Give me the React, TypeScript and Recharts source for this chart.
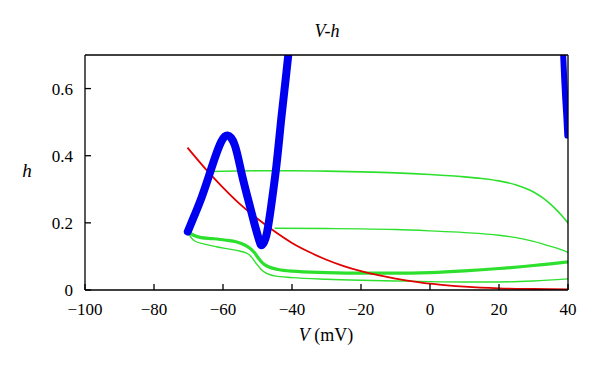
import {LineChart, Line, XAxis, YAxis, Label} from "recharts";

// V (mV), h pairs
const blueLeft: Array<[number, number]> = [
  [-70.2, 0.174], [-68.2, 0.224], [-66.3, 0.273], [-64.3, 0.333], [-62.4, 0.392], [-60.5, 0.442],
  [-58.7, 0.46], [-56.6, 0.432], [-54.7, 0.352], [-52.8, 0.273], [-50.8, 0.194], [-49.4, 0.144],
  [-48.7, 0.134], [-47.4, 0.164], [-46, 0.253], [-44.5, 0.372], [-43.1, 0.511], [-41.8, 0.631], [-41.1, 0.698],
];
const blueRight: Array<[number, number]> = [
  [38.6, 0.7], [38.9, 0.63], [39.2, 0.57], [39.5, 0.52], [39.8, 0.46],
];
const redCurve: Array<[number, number]> = [
  [-70.3, 0.424], [-65, 0.36], [-60, 0.305], [-55, 0.255], [-50, 0.212], [-45, 0.174],
  [-40, 0.14], [-35, 0.113], [-30, 0.09], [-25, 0.071], [-20, 0.056], [-15, 0.044],
  [-10, 0.034], [-5, 0.026], [0, 0.019], [5, 0.014], [10, 0.01], [20, 0.005], [30, 0.003], [40, 0.002],
];
const greenTop: Array<[number, number]> = [
  [-63.8, 0.353], [-50, 0.355], [-40, 0.355], [-30, 0.354], [-20, 0.352], [-10, 0.349],
  [0, 0.344], [10, 0.337], [15, 0.332], [20, 0.325], [25, 0.313], [30, 0.292], [33, 0.272],
  [35, 0.255], [37, 0.235], [38.5, 0.218], [39.5, 0.206], [40, 0.199],
];
const greenMid: Array<[number, number]> = [
  [-45, 0.184], [-30, 0.183], [-20, 0.182], [-10, 0.18], [0, 0.176], [10, 0.171],
  [20, 0.163], [25, 0.156], [30, 0.145], [35, 0.13], [38, 0.12], [40, 0.112],
];
const greenThick: Array<[number, number]> = [
  [-70.2, 0.174], [-68.5, 0.163], [-66.3, 0.156], [-63, 0.153], [-59.5, 0.149], [-56, 0.143],
  [-53.7, 0.134], [-52.3, 0.125], [-50.8, 0.11], [-49.6, 0.093], [-48.5, 0.08], [-47, 0.07],
  [-44, 0.061], [-40, 0.056], [-30, 0.052], [-20, 0.05], [-10, 0.05],
  [0, 0.052], [10, 0.057], [20, 0.064], [30, 0.073], [40, 0.084],
];
const greenThin: Array<[number, number]> = [
  [-70.2, 0.174], [-69.4, 0.158], [-68.2, 0.146], [-65, 0.136], [-62, 0.129], [-59.5, 0.124],
  [-56, 0.118], [-52.8, 0.108], [-51.5, 0.095], [-50.3, 0.078], [-49, 0.062], [-47.5, 0.05],
  [-45, 0.042], [-40, 0.037], [-30, 0.032], [-20, 0.029], [-10, 0.027], [0, 0.025],
  [10, 0.024], [20, 0.024], [30, 0.027], [40, 0.033],
];

const xTicks = [-100, -80, -60, -40, -20, 0, 20, 40];
const yTicks = [0, 0.2, 0.4, 0.6];

const toRows = (pts: Array<[number, number]>) => pts.map(([v, h]) => ({v, h}));

const font = "'Liberation Serif', 'Times New Roman', serif";
const textStyle = {fontFamily: font, fontSize: 18};
const tickStyle = {fontFamily: font, fontSize: 17};
const fmtX = (v: number) => (v < 0 ? "\u2212" + Math.abs(v) : String(v));
const fmtY = (v: number) => String(v);

const App = () => {
  return (
    <div style={{position: "absolute", left: 0, top: 0, fontFamily: font}}>
      <LineChart width={600} height={368} margin={{top: 25, right: 2, bottom: 0, left: 0}} style={{fontFamily: font}}>
        <XAxis
          dataKey='v'
          type='number'
          domain={[-100, 40]}
          ticks={xTicks}
          allowDataOverflow
          height={78}
          tickSize={-6}
          tickMargin={19}
          tickFormatter={fmtX}
          tick={{fill: "#000", style: tickStyle}}
          stroke='#000'
          strokeWidth={1.3}
        >
          <Label
            content={() => (
              <text x={326} y={341} textAnchor='middle' fill='#000' style={textStyle}>
                <tspan fontStyle='italic'>V</tspan> (mV)
              </text>
            )}
          />
        </XAxis>
        <XAxis
          xAxisId='top'
          orientation='top'
          type='number'
          domain={[-100, 40]}
          ticks={xTicks}
          height={30}
          tickSize={-6}
          tick={false}
          stroke='#000'
          strokeWidth={1.3}
        >
          <Label
            content={() => (
              <text x={327} y={37} textAnchor='middle' fill='#000' style={{...textStyle, fontStyle: "italic"}}>
                V-h
              </text>
            )}
          />
        </XAxis>
        <YAxis
          type='number'
          domain={[0, 0.7]}
          ticks={yTicks}
          allowDataOverflow
          width={85}
          tickSize={-6}
          tickMargin={18}
          tickFormatter={fmtY}
          tick={{fill: "#000", style: tickStyle}}
          stroke='#000'
          strokeWidth={1.3}
        >
          <Label
            content={() => (
              <text x={27} y={177} textAnchor='middle' fill='#000' style={{...textStyle, fontSize: 19, fontStyle: "italic"}}>
                h
              </text>
            )}
          />
        </YAxis>
        <YAxis
          yAxisId='right'
          orientation='right'
          type='number'
          domain={[0, 0.7]}
          ticks={[0.2, 0.4, 0.6]}
          width={30}
          tickSize={-6}
          tick={false}
          stroke='#000'
          strokeWidth={1.3}
        />
        <Line data={toRows(greenTop)} dataKey='h' type='monotone' stroke='#2ee02e' strokeWidth={1.6} dot={false} activeDot={false} isAnimationActive={false} />
        <Line data={toRows(greenMid)} dataKey='h' type='monotone' stroke='#2ee02e' strokeWidth={1.4} dot={false} activeDot={false} isAnimationActive={false} />
        <Line data={toRows(greenThin)} dataKey='h' type='monotone' stroke='#2ee02e' strokeWidth={1.4} dot={false} activeDot={false} isAnimationActive={false} />
        <Line data={toRows(greenThick)} dataKey='h' type='monotone' stroke='#2ee02e' strokeWidth={3.2} dot={false} activeDot={false} isAnimationActive={false} />
        <Line data={toRows(redCurve)} dataKey='h' type='monotone' stroke='#e00000' strokeWidth={1.8} dot={false} activeDot={false} isAnimationActive={false} />
        <Line data={toRows(blueLeft)} dataKey='h' type='natural' stroke='#0000f0' strokeWidth={8} strokeLinecap='round' strokeLinejoin='round' dot={false} activeDot={false} isAnimationActive={false} />
        <Line data={toRows(blueRight)} dataKey='h' type='natural' stroke='#0000f0' strokeWidth={6} strokeLinecap='round' strokeLinejoin='round' dot={false} activeDot={false} isAnimationActive={false} />
      </LineChart>
    </div>
  );
};

export default App;
